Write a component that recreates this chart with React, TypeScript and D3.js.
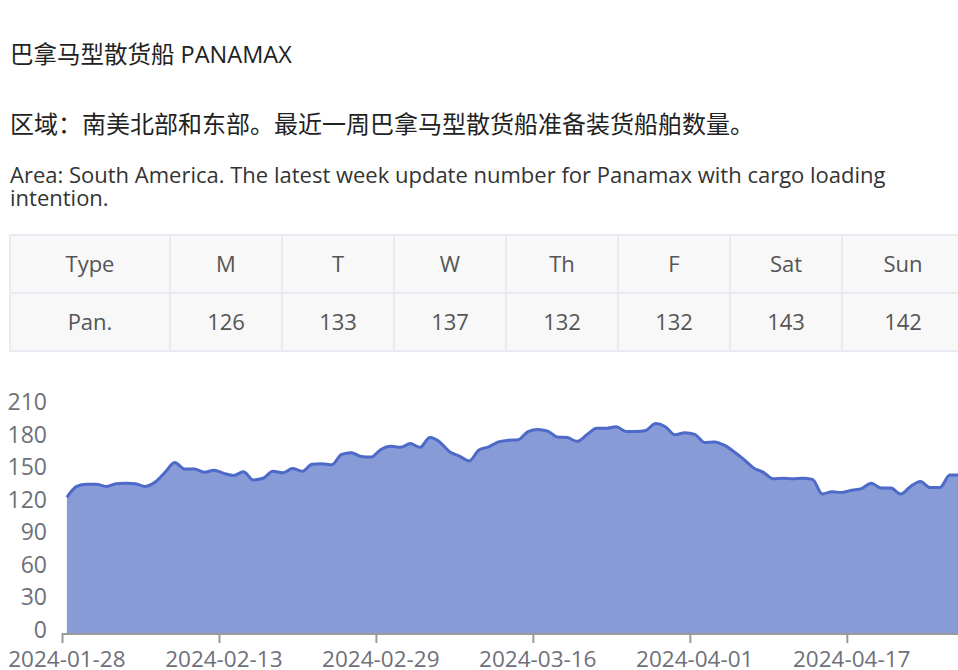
import * as d3 from "d3";

// week table
const tableHeaders = ["Type", "M", "T", "W", "Th", "F", "Sat", "Sun"];
const tableRow = ["Pan.", "126", "133", "137", "132", "132", "143", "142"];

// daily series, starting 2024-01-28
const startDay = new Date(2024, 0, 28);
const panamaxCount = [
  125, 135, 137, 137, 135, 137.5, 138, 137.5, 135, 139,
  148, 157, 151, 151, 148, 150, 147, 145, 148.5, 141,
  142.5, 149, 147.5, 151.5, 149, 155.5, 156, 155, 164.5, 166,
  162.5, 162, 169, 172, 171, 174.5, 171, 180, 176, 167,
  163, 158.5, 168.5, 171.5, 176, 177.5, 178, 185.5, 187.5, 186,
  180.5, 180, 176.5, 182.5, 188.5, 188.5, 190, 185.5, 185.5, 186.5,
  193, 190, 182.5, 184.5, 183, 175.5, 176, 173, 167, 160,
  152, 148, 142, 142.5, 142, 142.5, 141.5, 128, 130, 129.5,
  131.5, 133, 138, 133.5, 133.5, 128, 135, 139.5, 134, 134,
  145.5, 145.5, 145,
];
const yTicks = [0, 30, 60, 90, 120, 150, 180, 210];
const labelEvery = 16;

const fmt = d3.timeFormat("%Y-%m-%d");
const categories = panamaxCount.map((_, i) => fmt(d3.timeDay.offset(startDay, i)));

// layout
const FONT = "'Open Sans', 'Noto Sans CJK SC', sans-serif";
const colW = [160, 112, 112, 112, 112, 112, 112, 122];
const tableX = 10;
const tableY = 235;
const rowH = 58;
const plotLeft = 62;
const step = 9.81;
const axisY = 633;

export default function App() {
  const x = d3
    .scaleBand<string>()
    .domain(categories)
    .range([plotLeft, plotLeft + categories.length * step]);
  const y = d3.scaleLinear().domain([0, 210]).range([axisY, 405]);
  const cx = (d: string) => (x(d) as number) + x.bandwidth() / 2;

  const area = d3
    .area<number>()
    .x((_, i) => cx(categories[i]))
    .y0(y(0))
    .y1((d) => y(d))
    .curve(d3.curveMonotoneX);
  const line = d3
    .line<number>()
    .x((_, i) => cx(categories[i]))
    .y((d) => y(d))
    .curve(d3.curveMonotoneX);

  const colX = colW.map((_, i) => tableX + d3.sum(colW.slice(0, i)));
  const labelled = categories.filter((_, i) => i % labelEvery === 0);

  return (
    <svg
      width={958}
      height={670}
      style={{ position: "absolute", left: 0, top: 0, fontFamily: FONT }}
    >
      <rect width={958} height={670} fill="#fff" />
      <text x={10} y={63} fontSize={23.5} fill="#222">
        巴拿马型散货船 PANAMAX
      </text>
      <text x={10} y={133} fontSize={24} fill="#222">
        区域：南美北部和东部。最近一周巴拿马型散货船准备装货船舶数量。
      </text>
      <text fontSize={22} fill="#333">
        <tspan x={10} y={183}>
          Area: South America. The latest week update number for Panamax with cargo loading
        </tspan>
        <tspan x={10} y={206}>
          intention.
        </tspan>
      </text>

      {/* table */}
      {[tableHeaders, tableRow].map((row, r) => (
        <g key={r}>
          {row.map((cell, c) => (
            <g key={c}>
              <rect
                x={colX[c]}
                y={tableY + r * rowH}
                width={colW[c]}
                height={rowH}
                fill="#f8f8f8"
                stroke="#e8ecf2"
                strokeWidth={2}
              />
              <text
                x={colX[c] + colW[c] / 2}
                y={tableY + r * rowH + rowH / 2}
                dy="0.35em"
                textAnchor="middle"
                fontSize={22}
                fill="#555"
              >
                {cell}
              </text>
            </g>
          ))}
        </g>
      ))}

      {/* chart */}
      <path d={area(panamaxCount) ?? ""} fill="#5470c6" fillOpacity={0.7} />
      <path
        d={line(panamaxCount) ?? ""}
        fill="none"
        stroke="#4d6ac8"
        strokeWidth={3}
        strokeLinejoin="round"
      />
      {yTicks.map((t) => (
        <text
          key={t}
          x={47}
          y={y(t) - 3}
          dy="0.35em"
          textAnchor="end"
          fontSize={23}
          fill="#6e7079"
        >
          {t}
        </text>
      ))}
      <line x1={plotLeft} x2={958} y1={axisY + 1} y2={axisY + 1} stroke="#9a9a9a" strokeWidth={2} />
      {labelled.map((d) => (
        <g key={d}>
          <line
            x1={(x(d) as number) + 0.5}
            x2={(x(d) as number) + 0.5}
            y1={axisY}
            y2={axisY + 10}
            stroke="#9a9a9a"
            strokeWidth={2}
          />
          <text x={cx(d)} y={667} textAnchor="middle" fontSize={22.5} fill="#6e7079">
            {d}
          </text>
        </g>
      ))}
    </svg>
  );
}
